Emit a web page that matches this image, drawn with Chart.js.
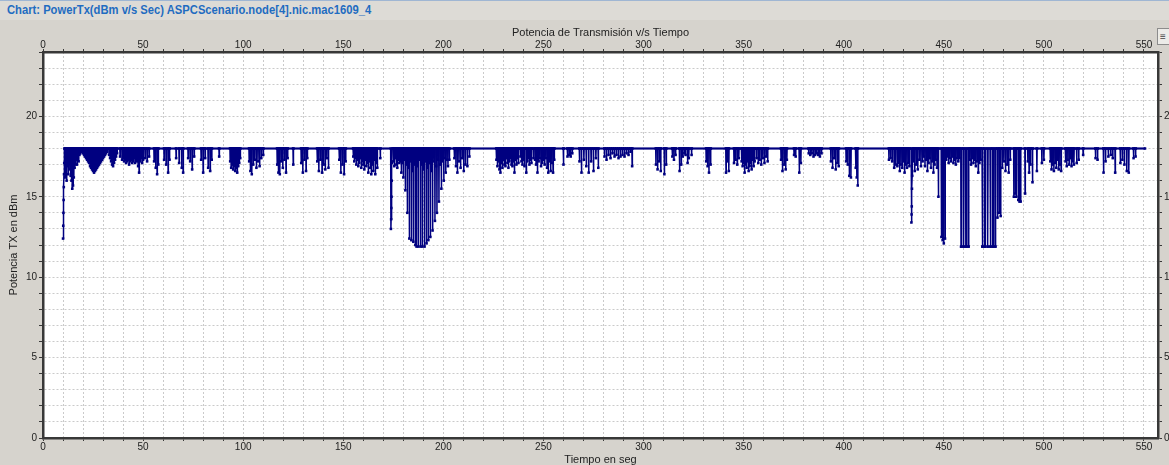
<!DOCTYPE html>
<html>
<head>
<meta charset="utf-8">
<script src="https://cdn.jsdelivr.net/npm/chart.js@4/dist/chart.umd.min.js"></script>
<style>
  body { margin: 0; width: 1169px; height: 465px; overflow: hidden; background: #d6d3cd; font-family: "Liberation Sans", Arial, sans-serif; position: relative; }
  #bar { position: absolute; left: 0; top: 0; width: 1169px; height: 20px; background: #dddbd6; border-top: 1px solid #9fb6d3; box-sizing: border-box; }
  #bar span { position: absolute; left: 7px; top: 1px; font-weight: bold; font-size: 13px; color: #1f6cc1; white-space: nowrap; transform-origin: 0 0; }
  #wrap { position: absolute; left: 0; top: 20px; }
  #btn { position: absolute; left: 1157px; top: 28px; width: 14px; height: 17px; border: 1px solid #8c8c8c; background: #ecebe8; box-sizing: border-box; font-size: 10px; line-height: 15px; color: #444; padding-left: 2px; }
</style>
</head>
<body>
<div id="bar"><span id="chartName">Chart: PowerTx(dBm v/s Sec) ASPCScenario.node[4].nic.mac1609_4</span></div>
<div id="wrap"><canvas id="powerChart" width="1185" height="445"></canvas></div>
<div id="btn">&#8801;</div>
<script>
// axis ranges and labels
const xMin = 0, xMax = 557, xStep = 10, xLabelEvery = 50;
const yMin = 0, yMax = 24, yStep = 1, yLabelEvery = 5;
const chartTitle = 'Potencia de Transmisión v/s Tiempo';
const xTitle = 'Tiempo en seg';
const yTitle = 'Potencia TX en dBm';

// power stays at basePower except for the dips below: [time s, power dBm]
const basePower = 18;
const lastTime = 550.5;
const joinGap = 0.3; // dips closer than this are joined without going back to base
const powerDips = [
  [10.0, 12.4], [10.1, 13.2], [10.2, 14.0], [10.3, 14.8], [10.4, 15.6], [10.5, 16.4], [10.6, 17.1],
  [11.0, 16.2], [11.4, 16.8], [11.8, 16.0], [12.2, 16.9], [12.6, 16.4], [13.0, 17.1], [13.4, 16.7],
  [13.8, 16.3], [14.2, 16.0], [14.6, 15.5], [15.0, 15.7], [15.4, 16.2], [15.8, 16.8], [16.2, 17.0],
  [16.6, 17.3], [17.0, 17.0], [17.4, 17.4], [17.8, 17.2], [18.2, 17.6], [18.6, 17.7],
  [19.0, 17.9], [19.5, 17.8], [20.0, 17.7], [20.5, 17.6], [21.0, 17.5], [21.5, 17.4], [22.0, 17.3],
  [22.5, 17.2], [23.0, 17.1], [23.5, 16.9], [24.0, 16.8], [24.5, 16.7], [25.0, 16.6], [25.5, 16.5],
  [26.0, 16.6], [26.5, 16.7], [27.0, 16.8], [27.5, 16.9], [28.0, 17.0], [28.5, 17.1], [29.0, 17.2],
  [29.5, 17.3], [30.0, 17.4], [30.5, 17.5], [31.0, 17.6], [31.5, 17.7], [32.0, 17.8],
  [33.0, 17.6], [33.5, 17.4], [34.0, 17.2], [34.5, 17.0], [35.0, 16.9], [35.5, 17.1], [36.0, 17.3],
  [36.5, 17.5], [37.0, 17.7], [38.5, 17.5], [39.5, 17.3],
  [40.0, 17.4], [40.5, 17.2], [41.0, 17.3], [41.5, 17.1], [42.0, 17.2], [42.5, 17.3], [43.0, 17.0],
  [43.5, 17.2], [44.0, 17.3], [44.5, 17.1], [45.0, 17.2], [45.5, 17.4], [46.0, 17.1], [46.5, 17.3],
  [47.0, 17.2], [47.5, 16.9], [48.0, 16.5], [48.5, 17.2], [49.0, 17.4], [49.5, 17.1], [50.0, 17.3],
  [51.0, 17.4], [52.0, 17.2], [53.0, 17.5],
  [55.5, 17.2], [56.3, 16.8], [57.0, 16.4], [57.6, 17.0], [60.5, 17.3], [61.5, 17.0], [62.5, 16.5],
  [63.2, 17.3], [66.5, 17.4], [68.0, 17.1], [69.3, 16.8], [70.0, 16.5], [72.5, 17.4], [73.5, 17.2],
  [74.5, 16.7], [75.5, 17.5], [79.0, 17.3], [80.0, 16.5], [81.0, 17.4], [82.5, 16.8], [83.5, 16.6],
  [84.3, 17.3], [88.0, 17.5],
  [93.5, 17.2], [94.0, 16.8], [94.5, 17.0], [95.0, 16.7], [95.5, 16.9], [96.0, 16.6], [96.5, 16.8],
  [97.0, 16.5], [97.5, 16.9], [98.0, 17.1], [98.5, 17.4],
  [103.0, 17.2], [103.6, 16.6], [104.3, 16.4], [105.0, 17.0], [105.8, 17.3], [106.6, 16.8], [107.4, 17.2],
  [108.2, 16.9], [109.0, 17.4], [110.0, 17.6],
  [117.0, 17.0], [117.6, 16.5], [118.3, 16.4], [119.0, 17.2], [119.8, 16.8], [120.6, 17.3], [121.4, 16.5],
  [122.2, 17.4], [125.0, 17.0],
  [129.0, 17.1], [129.8, 16.5], [130.6, 17.3], [131.4, 16.6], [132.0, 17.4],
  [137.0, 17.2], [137.8, 16.6], [138.6, 17.3], [139.4, 16.5], [140.2, 17.0], [141.0, 16.7], [141.8, 17.4],
  [142.6, 16.8], [148.0, 17.3], [148.8, 16.5], [149.6, 17.0], [150.4, 16.4], [151.2, 17.2],
  [155.0, 17.5], [155.5, 17.2], [156.0, 17.4], [156.5, 17.0], [157.0, 17.3], [157.5, 16.9], [158.0, 17.1],
  [158.5, 17.4], [159.0, 16.8], [159.5, 17.2], [160.0, 17.0], [160.5, 16.7], [161.0, 17.3], [161.5, 16.9],
  [162.0, 17.1], [162.5, 16.5], [163.0, 17.2], [163.5, 16.8], [164.0, 16.4], [164.5, 17.0], [165.0, 16.6],
  [165.5, 17.3], [166.0, 16.4], [166.5, 17.1], [167.0, 16.8], [168.5, 17.4],
  [173.8, 13.0], [173.9, 13.6], [174.0, 14.3], [174.1, 15.0], [174.2, 16.0], [174.3, 17.1],
  [175.0, 17.2], [175.5, 16.9], [176.0, 17.4], [176.5, 17.0], [177.0, 16.8], [177.5, 17.3], [178.0, 17.1],
  [178.5, 17.2], [179.0, 16.5], [179.5, 17.1], [180.0, 16.2], [180.5, 17.3], [181.0, 15.4], [181.5, 17.0],
  [182.0, 14.0], [182.5, 16.8], [183.0, 12.4], [183.5, 17.2], [184.0, 12.3], [184.5, 16.6], [185.0, 12.2],
  [185.5, 17.0], [186.0, 12.0], [186.6, 11.9], [187.0, 16.9], [187.5, 11.9], [188.0, 17.3], [188.6, 11.9],
  [189.0, 17.0], [189.5, 11.9], [190.0, 16.7], [190.6, 11.9], [191.0, 17.2], [191.6, 12.1], [192.0, 16.8],
  [192.5, 12.3], [193.0, 17.1], [193.5, 12.5], [194.0, 16.6], [194.6, 12.9], [195.2, 17.2], [195.8, 13.5],
  [196.4, 16.9], [196.8, 14.0], [197.3, 17.3], [197.8, 14.7], [198.4, 17.0], [199.0, 15.5], [199.6, 17.2],
  [200.2, 16.0], [200.8, 17.4], [201.2, 16.5], [201.8, 17.3], [202.3, 16.9], [203.0, 17.3],
  [205.5, 17.4], [206.3, 16.9], [207.0, 16.5], [207.8, 17.2], [208.6, 16.8], [209.4, 17.4], [210.2, 16.6],
  [211.0, 17.0], [212.0, 16.9], [213.0, 17.5],
  [226.5, 17.3], [227.0, 16.9], [227.5, 17.2], [228.0, 16.7], [228.5, 16.5], [229.0, 17.1], [229.5, 16.8],
  [230.0, 17.3], [230.5, 17.0], [231.0, 16.9], [231.5, 17.4], [232.0, 17.1], [232.5, 16.8], [233.0, 17.2],
  [233.5, 17.4], [234.0, 17.0], [234.5, 16.9], [235.0, 17.2], [235.5, 16.5], [236.0, 17.3], [236.5, 17.0],
  [237.0, 17.4], [237.5, 17.1], [238.5, 17.5], [239.0, 17.2], [239.5, 17.0], [240.0, 17.3], [240.5, 16.9],
  [241.4, 16.5], [242.0, 17.2], [242.5, 17.4], [243.0, 17.0], [243.5, 17.3], [244.0, 17.1], [245.0, 17.4],
  [245.8, 17.3], [246.3, 17.0], [247.0, 16.5], [247.6, 17.2], [248.2, 17.4], [248.8, 16.9], [249.4, 17.1],
  [250.0, 17.3], [250.6, 17.0], [251.2, 17.4], [251.8, 16.8], [252.4, 16.5], [253.0, 17.2], [253.6, 16.6],
  [254.2, 17.1], [254.8, 16.5], [255.4, 17.3],
  [260.0, 17.0], [262.0, 17.5], [262.8, 17.6], [263.6, 17.5], [264.4, 17.7],
  [268.0, 17.2], [269.0, 16.5], [270.2, 17.3], [271.4, 16.9], [272.6, 16.5], [273.8, 17.2], [275.0, 16.6],
  [276.2, 17.4], [277.4, 16.8],
  [280.5, 17.5], [281.5, 17.3], [282.5, 17.6], [283.5, 17.4], [284.5, 17.7], [285.5, 17.5], [286.5, 17.6],
  [287.5, 17.4], [288.5, 17.5], [289.5, 17.6], [290.5, 17.5], [291.5, 17.7], [292.5, 17.6], [293.5, 17.8],
  [294.3, 16.9],
  [306.2, 17.0], [307.0, 16.7], [307.8, 17.2], [308.6, 16.6], [310.4, 16.4], [311.3, 17.0],
  [314.4, 17.5], [315.2, 17.3], [316.0, 17.6], [318.0, 16.6], [318.8, 17.0], [319.6, 17.5], [320.4, 17.7],
  [321.0, 17.6], [322.0, 17.1], [322.6, 17.4], [324.0, 17.6],
  [331.3, 17.2], [332.0, 16.9], [332.7, 16.5], [333.5, 17.0], [341.2, 16.5], [342.0, 17.2], [342.6, 16.6],
  [345.2, 17.1], [346.0, 17.3], [346.8, 17.0], [347.6, 17.4],
  [349.0, 17.2], [349.5, 16.9], [350.0, 17.1], [350.5, 16.5], [351.0, 17.0], [351.5, 16.8], [352.0, 17.2],
  [352.5, 16.6], [353.0, 16.9], [353.5, 17.1], [354.0, 16.7], [354.5, 17.3], [355.0, 16.9], [355.5, 17.2],
  [356.5, 17.4], [357.3, 17.1], [358.0, 17.3], [358.8, 17.0], [359.6, 17.4], [360.4, 17.1], [361.2, 17.5],
  [362.0, 17.2],
  [368.7, 17.3], [369.4, 16.6], [370.2, 17.0], [371.0, 16.7], [371.6, 17.3], [375.2, 17.6], [376.0, 17.5],
  [377.8, 16.5], [378.6, 17.1],
  [382.5, 17.7], [383.3, 17.6], [384.1, 17.7], [384.9, 17.5], [385.7, 17.6], [386.5, 17.7], [387.3, 17.6],
  [388.1, 17.5], [388.9, 17.7],
  [393.6, 17.2], [394.4, 16.8], [395.2, 17.4], [396.0, 16.7], [396.8, 17.1], [397.5, 16.9],
  [401.2, 17.2], [402.0, 17.0], [402.8, 16.3], [403.6, 16.2], [406.0, 16.8], [406.5, 16.2], [407.0, 15.7],
  [422.6, 17.3], [423.4, 17.4], [424.2, 17.2], [425.2, 16.8], [426.0, 17.0], [426.8, 16.9],
  [427.4, 17.1], [428.0, 16.6], [428.6, 17.0], [429.2, 16.8], [429.8, 17.2], [430.4, 16.5], [431.0, 17.0],
  [431.6, 16.8], [432.2, 17.1], [432.8, 16.9],
  [433.8, 13.4], [433.9, 13.9], [434.0, 14.4], [434.1, 15.5], [434.2, 16.3],
  [434.8, 17.2], [435.5, 16.6], [436.2, 17.0], [437.0, 16.7], [437.8, 17.3], [438.6, 16.9],
  [439.4, 17.2], [440.0, 17.5], [440.6, 16.9], [441.2, 17.3], [441.8, 16.6], [442.4, 17.1], [443.0, 17.4],
  [443.6, 16.8], [444.2, 17.2], [444.8, 16.5], [445.4, 17.0], [446.0, 17.3], [446.6, 16.8],
  [447.3, 15.0], [448.8, 12.5], [449.4, 12.3], [450.0, 12.1], [450.6, 12.4],
  [451.2, 17.3], [451.8, 17.5], [452.4, 17.1], [453.0, 17.4], [453.6, 17.2], [454.2, 17.5], [454.8, 17.1],
  [455.4, 17.3], [456.0, 17.0], [456.6, 17.4], [457.2, 17.2], [457.8, 17.4],
  [458.6, 11.9], [458.8, 11.9], [459.8, 11.9], [460.0, 11.9], [461.0, 11.9], [461.2, 11.9], [462.2, 11.9],
  [462.4, 11.9],
  [463.0, 17.3], [463.6, 17.0], [464.2, 17.4], [464.8, 17.1], [465.4, 17.3], [466.0, 16.9], [466.6, 17.2],
  [467.2, 16.5], [467.8, 17.1], [468.4, 17.3],
  [469.2, 11.9], [469.4, 11.9], [470.4, 11.9], [470.6, 11.9], [471.8, 11.9], [472.0, 11.9], [473.2, 11.9],
  [473.4, 11.9], [474.4, 11.9], [474.6, 11.9], [475.6, 11.9], [475.8, 11.9],
  [476.8, 13.7], [477.6, 14.0], [478.4, 13.8], [479.2, 16.8],
  [480.0, 17.2], [480.8, 16.6], [481.6, 17.0], [482.4, 16.5], [483.2, 17.3],
  [485.0, 15.0], [485.6, 15.2], [486.2, 15.0], [487.2, 14.8], [487.8, 14.7], [488.4, 14.7], [490.6, 15.2],
  [492.0, 17.2], [492.6, 16.5], [493.3, 17.0], [494.3, 15.9], [496.5, 16.6], [499.0, 17.1], [500.0, 17.3],
  [503.2, 17.2], [503.8, 16.7], [504.4, 17.0], [505.0, 16.6], [505.6, 17.1], [506.2, 16.8], [506.8, 17.3],
  [507.4, 16.7], [508.0, 17.0], [508.6, 16.6],
  [510.8, 17.2], [511.4, 16.9], [512.0, 17.3], [512.6, 17.0], [513.2, 17.4], [513.8, 16.9], [514.4, 17.2],
  [515.0, 17.0], [516.4, 17.1], [517.4, 17.3], [519.6, 17.6],
  [525.8, 17.4], [526.8, 17.3], [529.8, 16.5], [530.8, 17.2], [532.2, 17.5], [533.4, 17.6], [534.4, 17.4],
  [535.6, 16.5], [538.2, 17.1], [539.2, 17.3], [540.2, 17.0], [541.4, 16.6], [542.4, 16.5],
  [544.8, 17.4], [545.8, 17.5]
];

// build the line: drop to each dip and come back to base power
const powerSeries = [];
let prevT = null;
powerDips.forEach(([t, v]) => {
  if (prevT !== null && t - prevT > joinGap) {
    powerSeries.push({ x: prevT + 0.12, y: basePower });
    powerSeries.push({ x: t - 0.12, y: basePower });
  }
  powerSeries.push({ x: t, y: v });
  prevT = t;
});
powerSeries.push({ x: prevT + 0.12, y: basePower });
powerSeries.push({ x: lastTime, y: basePower });

// fit the chart name into the title bar
const nameEl = document.getElementById('chartName');
nameEl.style.transform = 'scaleX(' + (364 / nameEl.offsetWidth) + ')';

const tickFont = { family: 'Liberation Sans', size: 10, lineHeight: 1 };
const titleFont = { family: 'Liberation Sans', size: 11, lineHeight: 1 };
const axisDark = '#383838';

function stepLabel(every) {
  return v => (Math.abs(v % every) < 1e-6 ? String(v) : '');
}

function xAxis(position, main) {
  return {
    type: 'linear', position: position, min: xMin, max: xMax,
    afterFit: s => { s.height = position === 'top' ? 32 : 27; },
    ticks: { stepSize: xStep, autoSkip: false, includeBounds: false, maxRotation: 0, padding: position === 'top' ? -1 : 1,
             font: tickFont, color: '#222', callback: stepLabel(xLabelEvery) },
    grid: { display: true, drawOnChartArea: main, color: '#cacaca', lineWidth: 1, tickLength: 3, tickColor: axisDark, tickWidth: 1 },
    border: { display: true, color: axisDark, width: 2.5, dash: [2, 2] },
    title: position === 'top'
      ? { display: true, text: chartTitle, font: titleFont, color: '#222', padding: { top: 7, bottom: 0 } }
      : { display: true, text: xTitle, font: titleFont, color: '#222', padding: { top: 0, bottom: 0 } }
  };
}

function yAxis(position, main) {
  return {
    type: 'linear', position: position, min: yMin, max: yMax,
    afterFit: s => { s.width = position === 'left' ? 43 : 27; },
    ticks: { stepSize: yStep, autoSkip: false, includeBounds: false, padding: 2,
             font: tickFont, color: '#222', callback: stepLabel(yLabelEvery) },
    grid: { display: true, drawOnChartArea: main, color: '#cacaca', lineWidth: 1, tickLength: 4, tickColor: axisDark, tickWidth: 1 },
    border: { display: true, color: axisDark, width: 2.5, dash: [2, 2] },
    title: position === 'left'
      ? { display: true, text: yTitle, font: titleFont, color: '#222', padding: { top: 8, bottom: 0 } }
      : { display: false }
  };
}

const whitePlot = {
  id: 'whitePlot',
  beforeDraw(chart) {
    const a = chart.chartArea;
    chart.ctx.save();
    chart.ctx.fillStyle = '#ffffff';
    chart.ctx.fillRect(a.left, a.top, a.right - a.left, a.bottom - a.top);
    chart.ctx.restore();
  }
};

new Chart(document.getElementById('powerChart'), {
  type: 'line',
  data: {
    datasets: [{
      label: 'PowerTx',
      data: powerSeries,
      borderColor: '#000080',
      borderWidth: 1.5,
      segment: {
        // the steady base power line is drawn a bit heavier, as in the original
        borderWidth: ctx => (ctx.p0.parsed.y === basePower && ctx.p1.parsed.y === basePower ? 2.2 : 1.5)
      },
      pointStyle: 'rect',
      pointRadius: 1.8,
      pointBorderWidth: 0,
      pointBackgroundColor: '#000080',
      tension: 0,
      fill: false
    }]
  },
  options: {
    responsive: false,
    animation: false,
    devicePixelRatio: 1,
    layout: { padding: 0 },
    plugins: { legend: { display: false }, tooltip: { enabled: false } },
    scales: {
      x: xAxis('bottom', true),
      xTop: xAxis('top', false),
      y: yAxis('left', true),
      yRight: yAxis('right', false)
    }
  },
  plugins: [whitePlot]
});
</script>
</body>
</html>
